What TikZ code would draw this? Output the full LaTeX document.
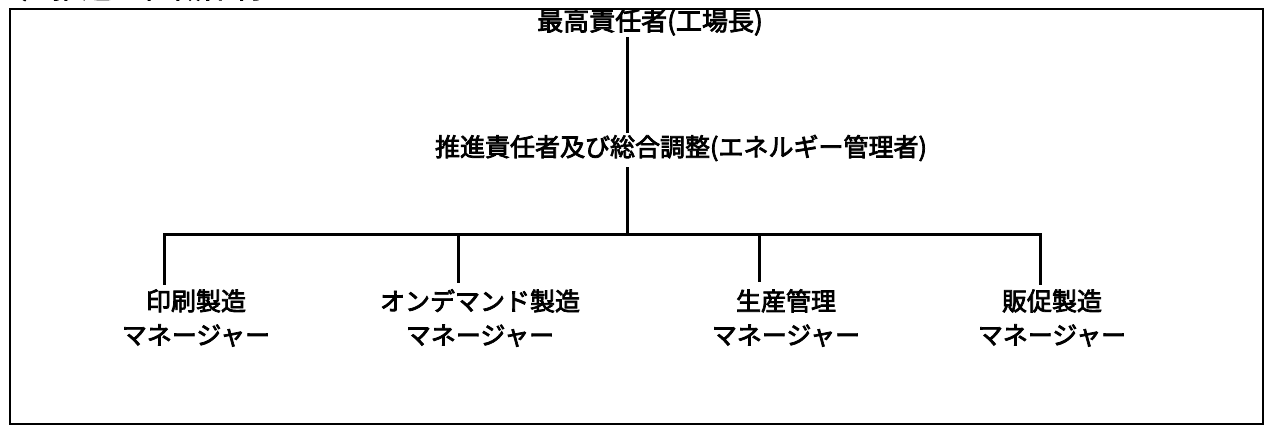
\documentclass[tikz,border=0pt]{standalone}
\usepackage{fontspec}
\newfontfamily\jp[FakeBold=3]{Noto Sans CJK JP}
\tikzset{
  lbl/.style={font=\jp\fontsize{25}{34}\selectfont, inner sep=0pt, align=center},
  ttl/.style={font=\jp\fontsize{30}{34}\selectfont, inner sep=0pt, anchor=base west},
  ln/.style={line width=3pt, line cap=rect},
  frm/.style={line width=2.6pt}
}
\begin{document}
\begin{tikzpicture}[x=1pt,y=-1pt]
\useasboundingbox (0,0) rectangle (1268,429);
\fill[white] (0,0) rectangle (1268,429);
% frame
\draw[frm] (10,9) rectangle (1263,424);
% cut-off heading above the frame
\node[ttl] (title) at (5,-2) {2）推進　組織体制};
% nodes
\node[lbl, font=\jp\fontsize{26}{34}\selectfont] (top) at (650,22) {最高責任者(工場長)};
\node[lbl] (mid) at (681,148) {推進責任者及び総合調整(エネルギー管理者)};
\node[lbl] (m1) at (196,318) {印刷製造\\マネージャー};
\node[lbl] (m2) at (480,318) {オンデマンド製造\\マネージャー};
\node[lbl] (m3) at (786,318) {生産管理\\マネージャー};
\node[lbl] (m4) at (1052,318) {販促製造\\マネージャー};
% junction coordinates
\coordinate (a1) at (627,38);
\coordinate (a2) at (627,131);
\coordinate (b1) at (627,168);
\coordinate (bar) at (627,234);
\coordinate (t1) at (164,234);
\coordinate (t2) at (458,234);
\coordinate (t3) at (759,234);
\coordinate (t4) at (1040,234);
\coordinate (e1) at (164,283);
\coordinate (e2) at (458,281);
\coordinate (e3) at (759,280);
\coordinate (e4) at (1040,283);
% connectors
\draw[ln] (a1) -- (a2);
\draw[ln] (b1) -- (bar);
\draw[ln] (e1) -- (t1) -- (t4) -- (e4);
\draw[ln] (t2) -- (e2);
\draw[ln] (t3) -- (e3);
\end{tikzpicture}
\end{document}
